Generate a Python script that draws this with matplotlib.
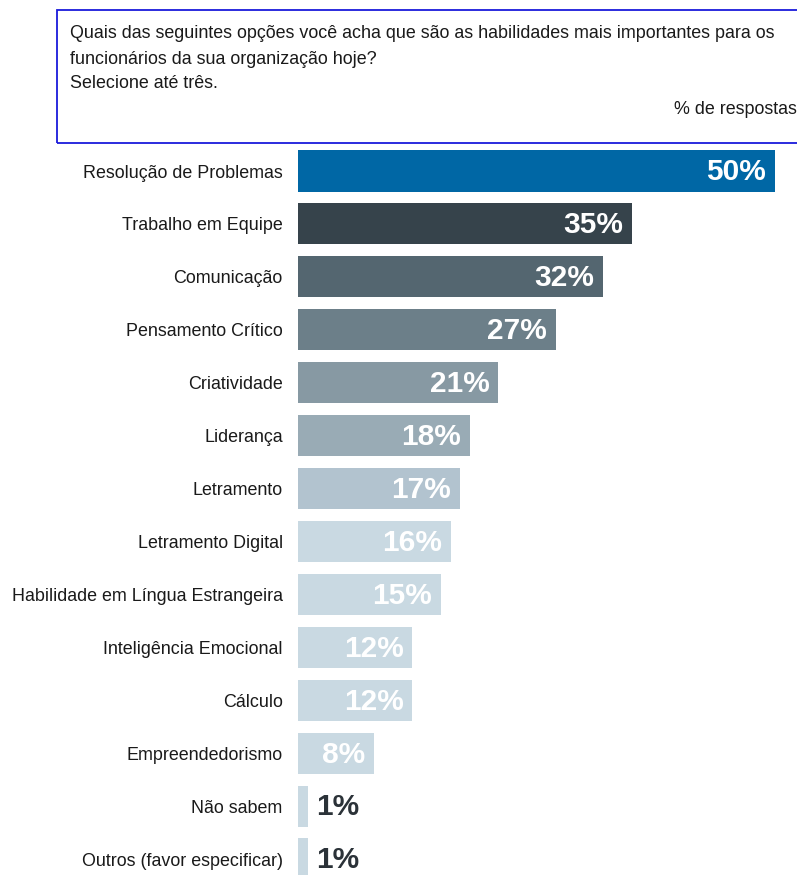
import matplotlib
matplotlib.use("Agg")
import matplotlib.pyplot as plt
from matplotlib.patches import Rectangle

plt.rcParams['font.family'] = ['Liberation Sans', 'DejaVu Sans']

categories = ["Resolução de Problemas", "Trabalho em Equipe", "Comunicação",
              "Pensamento Crítico", "Criatividade", "Liderança", "Letramento",
              "Letramento Digital", "Habilidade em Língua Estrangeira",
              "Inteligência Emocional", "Cálculo", "Empreendedorismo",
              "Não sabem", "Outros (favor especificar)"]
values = [50, 35, 32, 27, 21, 18, 17, 16, 15, 12, 12, 8, 1, 1]
colors = ["#0067a5", "#36434b", "#546670", "#6c7f89", "#8799a3", "#99abb5",
          "#b2c3cf", "#c9d9e2", "#c9d9e2", "#c9d9e2", "#c9d9e2", "#c9d9e2",
          "#c9d9e2", "#c9d9e2"]

W, H = 797, 875
fig = plt.figure(figsize=(W / 100, H / 100), dpi=100)

# Axes in pixel geometry
left_px, right_px = 298, 775
top_px, bot_px = 145, 875
ax = fig.add_axes([left_px / W, (H - bot_px) / H, (right_px - left_px) / W, (bot_px - top_px) / H])
s = (859 - 171) / 13
ax.set_xlim(0, 50)
ax.set_ylim(13 + (bot_px - 859) / s, -(171 - top_px) / s)

y = list(range(len(categories)))
ax.barh(y, values, height=0.775, color=colors, edgecolor='none')

ax.set_yticks(y)
ax.set_yticklabels(categories, fontsize=12.9, color='#1a1a1a')
ax.tick_params(axis='y', length=0, pad=11)
ax.set_xticks([])
for sp in ax.spines.values():
    sp.set_visible(False)

for yi, v in zip(y, values):
    if v >= 5:
        ax.annotate(f"{v}%", xy=(v, yi), xytext=(-6.5, -1), textcoords='offset points',
                    ha='right', va='center', fontsize=21.5, fontweight='bold', color='white')
    else:
        ax.annotate(f"{v}%", xy=(v, yi), xytext=(6, -1), textcoords='offset points',
                    ha='left', va='center', fontsize=21.5, fontweight='bold', color='#2b3238')

# Header box
fig.patches.append(Rectangle((57 / W, (H - 143) / H), (W + 5 - 57) / W, (143 - 10) / H,
                             transform=fig.transFigure, fill=False, edgecolor='#1a1adb',
                             linewidth=1.3))
fs = 12.9
fig.text(70 / W, 1 - 33 / H, "Quais das seguintes opções você acha que são as habilidades mais importantes para os",
         fontsize=fs, va='center', ha='left', color='#1a1a1a')
fig.text(70 / W, 1 - 59 / H, "funcionários da sua organização hoje?",
         fontsize=fs, va='center', ha='left', color='#1a1a1a')
fig.text(70 / W, 1 - 84 / H, "Selecione até três.",
         fontsize=fs, va='center', ha='left', color='#1a1a1a')
fig.text(797 / W, 1 - 109 / H, "% de respostas",
         fontsize=fs, va='center', ha='right', color='#1a1a1a')

fig.savefig("out.png", dpi=100)
